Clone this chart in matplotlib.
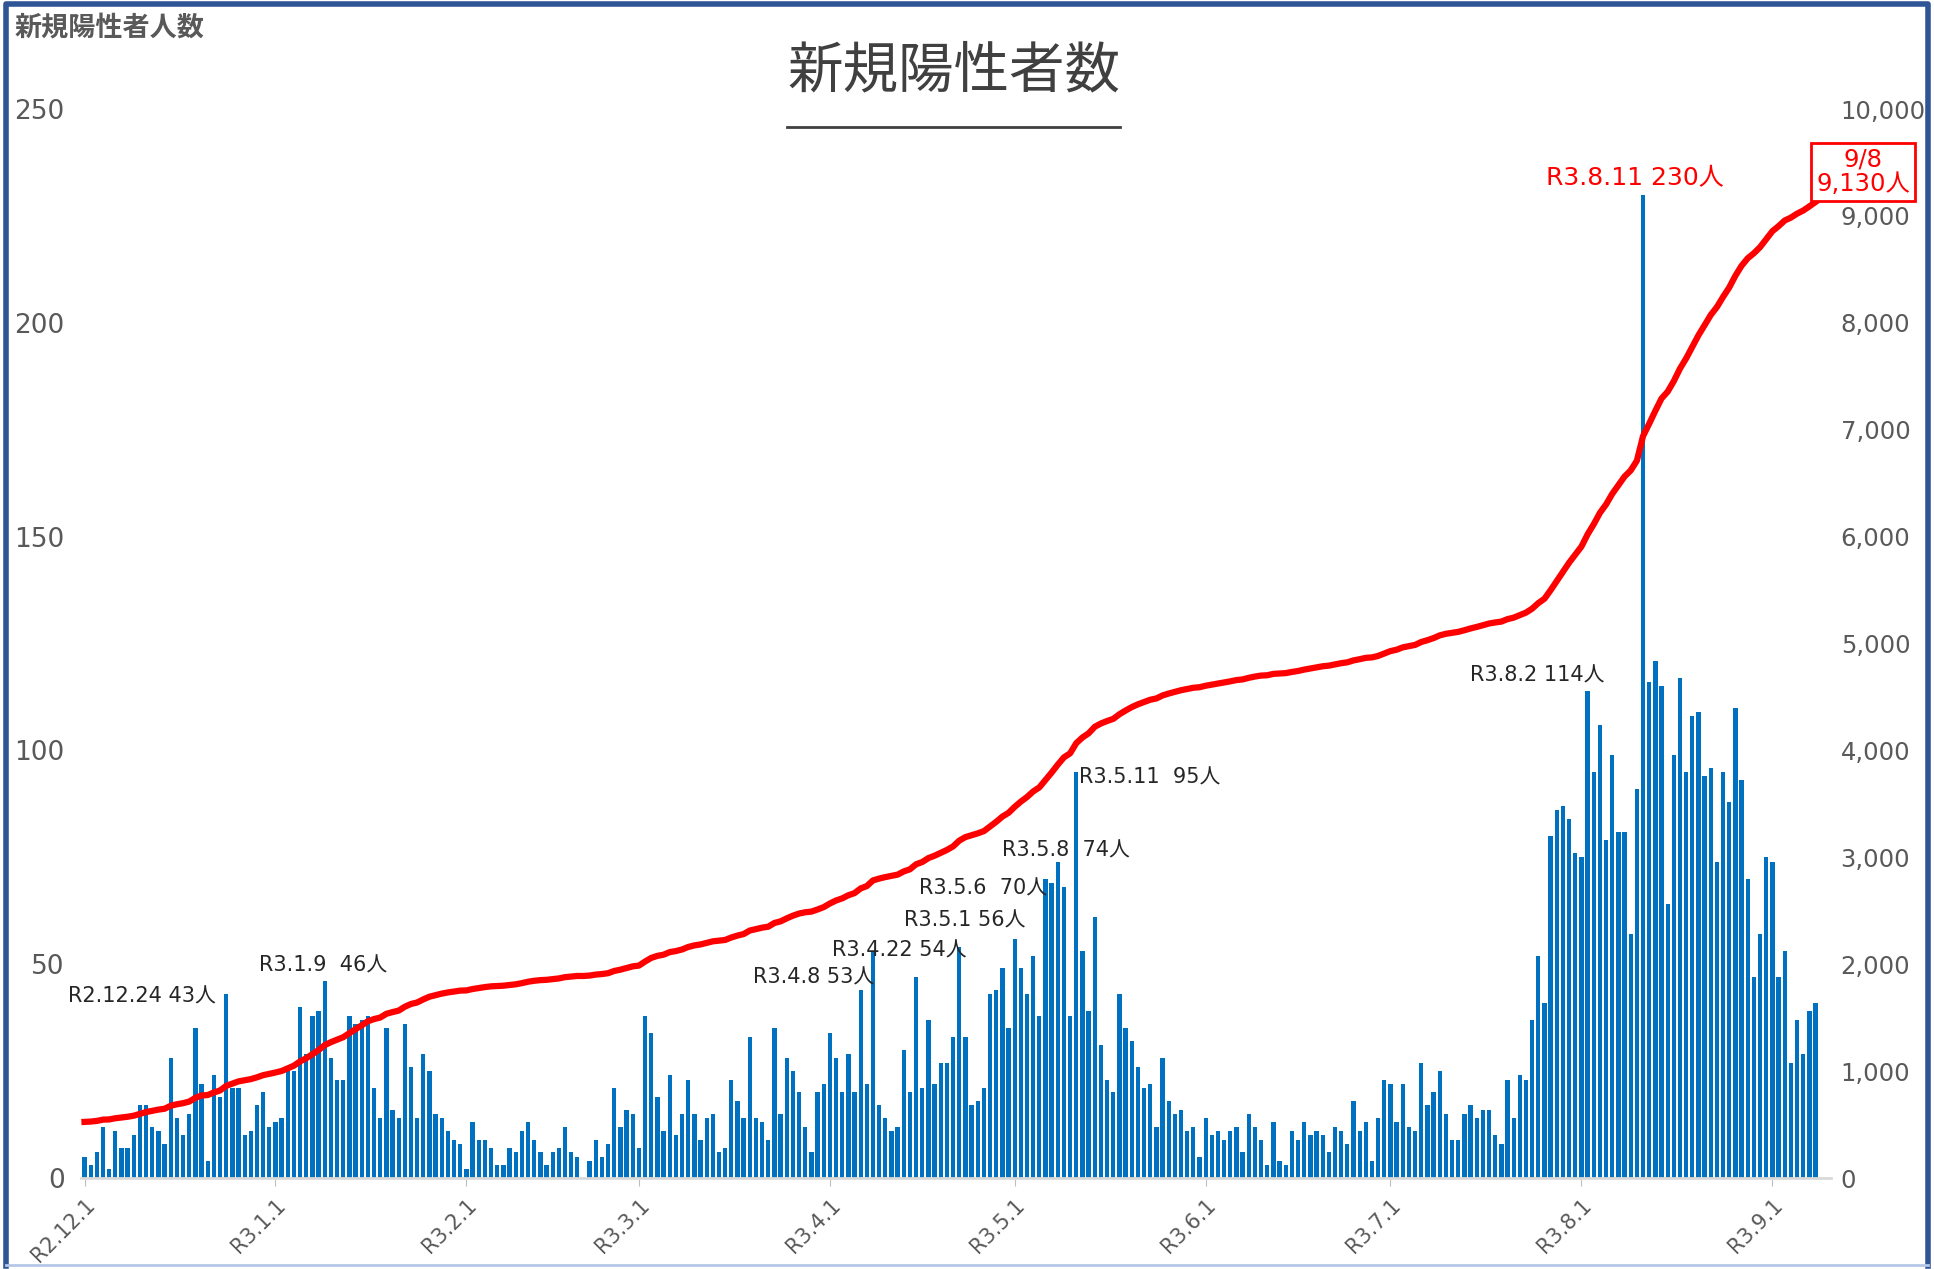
import numpy as np
import pandas as pd
import matplotlib.pyplot as plt
from matplotlib.lines import Line2D

plt.rcParams['font.family'] = ['Noto Sans CJK JP', 'DejaVu Sans']
num_font = ['DejaVu Sans', 'Noto Sans CJK JP']

# daily new positive cases, R2.12.1 - R3.9.8
dec = [5, 3, 6, 12, 2, 11, 7, 7, 10, 17, 17, 12, 11, 8, 28, 14, 10, 15, 35, 22,
       4, 24, 19, 43, 21, 21, 10, 11, 17, 20, 12]
jan = [13, 14, 25, 25, 40, 29, 38, 39, 46, 28, 23, 23, 38, 36, 37, 38, 21, 14, 35, 16,
       14, 36, 26, 14, 29, 25, 15, 14, 11, 9, 8]
feb = [2, 13, 9, 9, 7, 3, 3, 7, 6, 11, 13, 9, 6, 3, 6, 7, 12, 6, 5, 0,
       4, 9, 5, 8, 21, 12, 16, 15]
mar = [7, 38, 34, 19, 11, 24, 10, 15, 23, 15, 9, 14, 15, 6, 7, 23, 18, 14, 33, 14,
       13, 9, 35, 15, 28, 25, 20, 12, 6, 20, 22]
apr = [34, 28, 20, 29, 20, 44, 22, 53, 17, 14, 11, 12, 30, 20, 47, 21, 37, 22, 27, 27,
       33, 54, 33, 17, 18, 21, 43, 44, 49, 35]
may = [56, 49, 43, 52, 38, 70, 69, 74, 68, 38, 95, 53, 39, 61, 31, 23, 20, 43, 35, 32,
       26, 21, 22, 12, 28, 18, 15, 16, 11, 12, 5]
jun = [14, 10, 11, 9, 11, 12, 6, 15, 12, 9, 3, 13, 4, 3, 11, 9, 13, 10, 11, 10,
       6, 12, 11, 8, 18, 11, 13, 4, 14, 23]
jul = [22, 13, 22, 12, 11, 27, 17, 20, 25, 15, 9, 9, 15, 17, 14, 16, 16, 10, 8, 23,
       14, 24, 23, 37, 52, 41, 80, 86, 87, 84, 76]
aug = [75, 114, 95, 106, 79, 99, 81, 81, 57, 91, 230, 116, 121, 115, 64, 99, 117, 95, 108, 109,
       94, 96, 74, 95, 88, 110, 93, 70, 47, 57, 75]
sep = [74, 47, 53, 27, 37, 29, 39, 41]

daily = dec + jan + feb + mar + apr + may + jun + jul + aug + sep
prior_total = 520  # cumulative total before R2.12.1
cumulative = prior_total + np.cumsum(daily)

dates = pd.date_range("2020-12-01", periods=len(daily))
x = np.arange(len(daily))
month_starts = [i for i, d in enumerate(dates) if d.day == 1]
month_labels = [f"R{dates[i].year - 2018}.{dates[i].month}.1" for i in month_starts]

# labelled peaks: (text, x, y, align)
notes = [
    ("R2.12.24 43人", 9.3, 42.5, "center"),
    ("R3.1.9  46人", 38.7, 49.7, "center"),
    ("R3.4.8 53人", 118.3, 46.9, "center"),
    ("R3.4.22 54人", 132.2, 53.2, "center"),
    ("R3.5.1 56人", 142.9, 60.2, "center"),
    ("R3.5.6  70人", 145.9, 67.7, "center"),
    ("R3.5.8  74人", 159.3, 76.6, "center"),
    ("R3.5.11  95人", 161.4, 93.6, "left"),
    ("R3.8.2 114人", 235.8, 117.6, "center"),
]

gray = "#595959"

fig = plt.figure(figsize=(19.34, 12.69), dpi=100)
ax = fig.add_axes([0.0421, 0.0717, 0.9046, 0.8424])
ax.bar(x, daily, width=0.7, color="#0070C0")
ax.set_xlim(-0.5, 283.5)
ax.set_ylim(0, 250)
ax.set_yticks(range(0, 251, 50))
ax.tick_params(axis="y", length=0, labelcolor=gray, pad=12)
ax.set_xticks(month_starts)
ax.set_xticklabels(month_labels, rotation=45, ha="right", rotation_mode="anchor")
ax.tick_params(axis="x", length=6, color="#BFBFBF", labelcolor=gray, pad=6)
for lbl in ax.get_yticklabels():
    lbl.set_family(num_font)
    lbl.set_fontsize(19)
for lbl in ax.get_xticklabels():
    lbl.set_family(num_font)
    lbl.set_fontsize(15)
for s in ["top", "left", "right"]:
    ax.spines[s].set_visible(False)
ax.spines["bottom"].set_color("#D9D9D9")
ax.spines["bottom"].set_linewidth(2)

ax2 = ax.twinx()
ax2.plot(x, cumulative, color="#FF0000", lw=4.5)
ax2.set_ylim(0, 10000)
ax2.set_yticks(range(0, 10001, 1000))
ax2.set_yticklabels([f"{v:,}" for v in range(0, 10001, 1000)])
ax2.tick_params(axis="y", length=0, labelcolor=gray, pad=7)
for lbl in ax2.get_yticklabels():
    lbl.set_family(num_font)
    lbl.set_fontsize(17.5)
for s in ax2.spines.values():
    s.set_visible(False)

for txt, tx, ty, ha in notes:
    ax2.text(tx, ty, txt, transform=ax.transData, ha=ha, va="center",
             fontsize=15, color="#262626", family=num_font)
ax2.text(251.7, 233.9, "R3.8.11 230人", transform=ax.transData, ha="center", va="center",
         fontsize=18, color="#FF0000", family=num_font)
ax2.text(288.7, 235.3, "9/8\n9,130人", transform=ax.transData, ha="center", va="center",
         fontsize=17.5, color="#FF0000", linespacing=1.0, clip_on=False, family=num_font,
         bbox=dict(boxstyle="square,pad=0.2", fc="white", ec="#FF0000", lw=2))

title = fig.text(0.493, 1 - 72 / 1269, "新規陽性者数", ha="center", va="center",
                 fontsize=40, color="#404040")
fig.text(15 / 1934, 1 - 27 / 1269, "新規陽性者人数", ha="left", va="center",
         fontsize=19.5, color=gray, fontweight="bold")

# underline the title
fig.canvas.draw()
bb = title.get_window_extent().transformed(fig.transFigure.inverted())
fig.add_artist(Line2D([bb.x0, bb.x1], [bb.y0 - 0.021, bb.y0 - 0.021],
                      transform=fig.transFigure, color="#404040", lw=2))

# frame around the picture
fig.add_artist(Line2D([0.003, 0.003, 0.997, 0.997], [0.002, 0.997, 0.997, 0.002],
                      transform=fig.transFigure, color="#2F5597", lw=4))
fig.add_artist(Line2D([0.003, 0.997], [0.003, 0.003],
                      transform=fig.transFigure, color="#B4C7E7", lw=2))

fig.savefig("out.png", dpi=100)
